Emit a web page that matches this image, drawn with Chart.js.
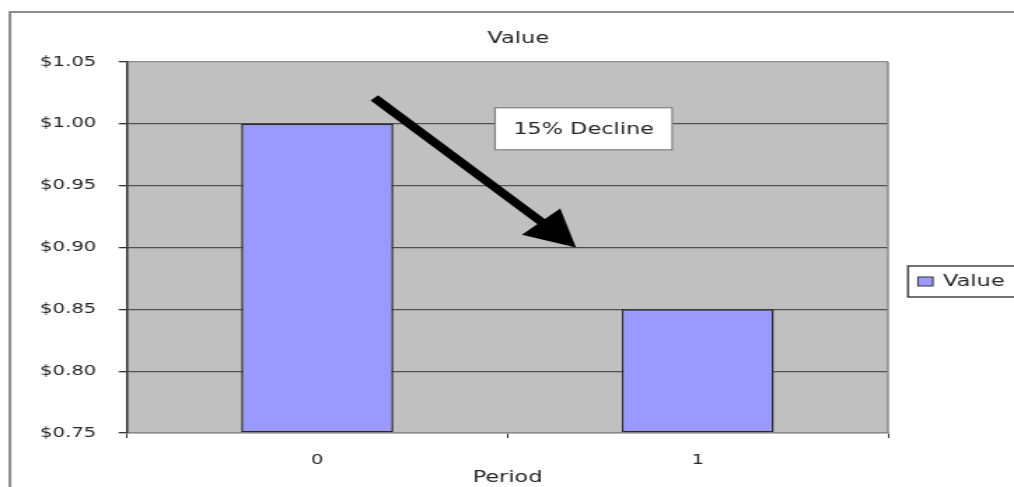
<!DOCTYPE html>
<html>
<head>
<meta charset="utf-8">
<script src="https://cdn.jsdelivr.net/npm/chart.js@4"></script>
<style>
  html, body { margin: 0; padding: 0; background: #fff; overflow: hidden; }
  /* the chart is laid out narrow and widened horizontally */
  #wrap { width: 724px; height: 487px; transform: scaleX(1.4006); transform-origin: 0 0; }
</style>
</head>
<body>
<div id="wrap"><canvas id="c"></canvas></div>
<script>
// ---- data ----
const periods = ['0', '1'];
const values = [1.00, 0.85];
const seriesName = 'Value';
const chartTitle = 'Value';
const xTitle = 'Period';
const yTicks = [0.75, 0.80, 0.85, 0.90, 0.95, 1.00, 1.05];

// ---- annotation (x in category index units, y in dollars) ----
const noteText = '15% Decline';
const arrowFrom = [0.15, 1.021];
const arrowTo = [0.68, 0.90];
const noteAt = [0.70, 0.996];

const FONT = 'DejaVu Sans';
const TEXT = '#262626';
const BAR = '#9999ff';

function xAt(chart, v) {
  const s = chart.scales.x;
  const p0 = s.getPixelForValue(0), p1 = s.getPixelForValue(1);
  return p0 + v * (p1 - p0);
}
function yAt(chart, v) { return chart.scales.y.getPixelForValue(v); }

const decor = {
  id: 'decor',
  beforeDraw(chart) {
    const { ctx, chartArea: a, width, height } = chart;
    ctx.save();
    ctx.fillStyle = '#fff';
    ctx.fillRect(0, 0, width, height);
    // outer chart frame
    ctx.strokeStyle = '#8a8a8a';
    ctx.lineWidth = 2;
    ctx.strokeRect(7.1, 12, width + 20, height + 20);
    // plot background
    ctx.fillStyle = '#c0c0c0';
    ctx.fillRect(a.left, a.top, a.right - a.left, a.bottom - a.top);
    ctx.restore();
  },
  afterDatasetsDraw(chart) {
    const { ctx, chartArea: a } = chart;
    ctx.save();
    // right edge of plot area
    ctx.strokeStyle = '#8a8a8a';
    ctx.lineWidth = 1.5;
    ctx.beginPath();
    ctx.moveTo(a.right, a.top);
    ctx.lineTo(a.right, a.bottom);
    ctx.stroke();

    // arrow
    const x0 = xAt(chart, arrowFrom[0]), y0 = yAt(chart, arrowFrom[1]);
    const x1 = xAt(chart, arrowTo[0]), y1 = yAt(chart, arrowTo[1]);
    const dx = x1 - x0, dy = y1 - y0, len = Math.hypot(dx, dy);
    const ux = dx / len, uy = dy / len, px = -uy, py = ux;
    const headLen = 36, headHalf = 19;
    const bx = x1 - ux * headLen, by = y1 - uy * headLen;
    ctx.strokeStyle = '#000';
    ctx.lineWidth = 7.5;
    ctx.lineCap = 'butt';
    ctx.beginPath();
    ctx.moveTo(x0, y0);
    ctx.lineTo(bx + ux * 2, by + uy * 2);
    ctx.stroke();
    ctx.fillStyle = '#000';
    ctx.beginPath();
    ctx.moveTo(x1, y1);
    ctx.lineTo(bx + px * headHalf, by + py * headHalf);
    ctx.lineTo(bx - px * headHalf, by - py * headHalf);
    ctx.closePath();
    ctx.fill();

    // note box
    ctx.font = '16px "' + FONT + '"';
    const tw = ctx.measureText(noteText).width;
    const bw = tw + 26, bh = 42;
    const cx = xAt(chart, noteAt[0]), cy = yAt(chart, noteAt[1]);
    ctx.fillStyle = '#fff';
    ctx.fillRect(cx - bw / 2, cy - bh / 2, bw, bh);
    ctx.strokeStyle = '#808080';
    ctx.lineWidth = 1.2;
    ctx.strokeRect(cx - bw / 2, cy - bh / 2, bw, bh);
    ctx.fillStyle = TEXT;
    ctx.textAlign = 'center';
    ctx.textBaseline = 'middle';
    ctx.fillText(noteText, cx, cy + 1);
    ctx.restore();
  },
  afterDraw(chart) {
    // legend
    const { ctx, chartArea: a } = chart;
    const ds = chart.data.datasets[0];
    const lx = a.right + 14.3, ly = a.top + 204;
    ctx.save();
    ctx.fillStyle = '#fff';
    ctx.fillRect(lx, ly, 120, 31);
    ctx.strokeStyle = '#444';
    ctx.lineWidth = 1.5;
    ctx.strokeRect(lx, ly, 120, 31);
    ctx.fillStyle = ds.backgroundColor;
    ctx.fillRect(lx + 7.1, ly + 11, 10.7, 9);
    ctx.strokeStyle = '#333';
    ctx.lineWidth = 1;
    ctx.strokeRect(lx + 7.1, ly + 11, 10.7, 9);
    ctx.fillStyle = TEXT;
    ctx.font = '16px "' + FONT + '"';
    ctx.textAlign = 'left';
    ctx.textBaseline = 'middle';
    ctx.fillText(ds.label, lx + 25, ly + 16);
    ctx.restore();
  }
};

new Chart(document.getElementById('c'), {
  type: 'bar',
  data: {
    labels: periods,
    datasets: [{
      label: seriesName,
      data: values,
      base: yTicks[0],
      backgroundColor: BAR,
      borderColor: '#2a2a2a',
      borderWidth: 1.5,
      borderSkipped: false,
      categoryPercentage: 0.8,
      barPercentage: 0.5
    }]
  },
  options: {
    responsive: true,
    maintainAspectRatio: false,
    animation: false,
    layout: { padding: { left: 16, right: 0, top: 0, bottom: 0 } },
    plugins: {
      legend: { display: false },
      tooltip: { enabled: false },
      title: {
        display: true,
        text: chartTitle,
        color: TEXT,
        font: { family: FONT, size: 16, weight: 'normal' },
        padding: { top: 29.4, bottom: 13.4 }
      }
    },
    scales: {
      x: {
        grid: { display: true, drawOnChartArea: false, drawTicks: true, tickLength: 5, tickColor: '#333', offset: true },
        border: { display: true, color: '#8a8a8a', width: 1.5 },
        ticks: { color: TEXT, font: { family: FONT, size: 14 }, padding: 14 },
        title: { display: true, text: xTitle, color: TEXT, font: { family: FONT, size: 16 }, padding: { top: 0, bottom: 0 } },
        afterFit(s) { s.height = 54; }
      },
      y: {
        min: yTicks[0],
        max: yTicks[yTicks.length - 1],
        afterBuildTicks(s) { s.ticks = yTicks.map(v => ({ value: v })); },
        grid: {
          color: c => (c.index === 0 || c.index === yTicks.length - 1) ? '#8a8a8a' : '#505050',
          lineWidth: 1.3,
          tickLength: 6,
          tickColor: '#333',
          drawTicks: true
        },
        border: { display: true, color: '#333', width: 1.5 },
        ticks: {
          color: TEXT,
          font: { family: FONT, size: 14 },
          padding: 16,
          callback: v => '$' + Number(v).toFixed(2)
        },
        afterFit(s) { s.width = 74.7; }
      },
      y2: {
        type: 'linear',
        position: 'right',
        min: 0, max: 1,
        grid: { display: false },
        border: { display: false },
        ticks: { display: false },
        afterFit(s) { s.width = 90; }
      }
    }
  },
  plugins: [decor]
});
</script>
</body>
</html>
